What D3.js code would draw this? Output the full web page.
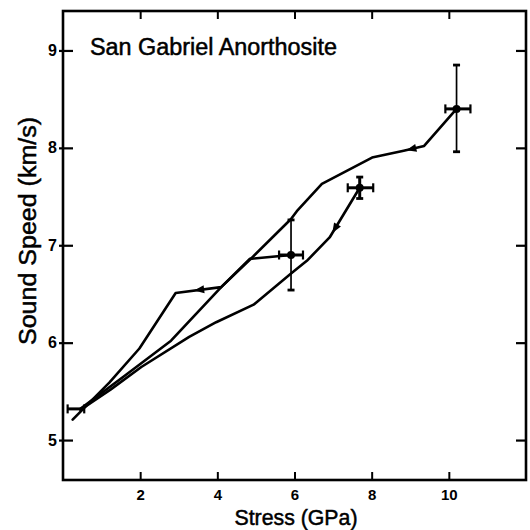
<!DOCTYPE html>
<html><head><meta charset="utf-8">
<script src="https://cdn.jsdelivr.net/npm/d3@7"></script>
<style>html,body{margin:0;padding:0;background:#fff;} svg{display:block;}</style>
</head><body>
<svg id="chart" width="530" height="530"></svg>
<script>
// ---- data ----
const xTicks = [2, 4, 6, 8, 10];
const yTicks = [5, 6, 7, 8, 9];
const xTickLabels = ["2", "4", "6", "8", "10"];
const yTickLabels = ["5", "6", "7", "8", "9"];

// release path from the 5.9 GPa state
const pathA_x = [5.91, 4.84, 4.10, 2.92, 1.98, 1.20, 0.25];
const pathA_y = [6.90, 6.86, 6.57, 6.51, 5.94, 5.59, 5.21];
// release path from the 10.2 GPa state
const pathB_x = [10.20, 9.36, 8.83, 8.01, 6.71, 6.06, 5.91, 4.84, 4.10, 2.80, 1.60, 0.45];
const pathB_y = [8.40, 8.02, 7.97, 7.90, 7.63, 7.35, 7.27, 6.85, 6.57, 6.02, 5.66, 5.32];
// release path from the 7.7 GPa state
const pathC_x = [7.69, 6.91, 6.32, 5.91, 4.94, 3.97, 3.27, 2.03, 1.24, 0.45];
const pathC_y = [7.59, 7.08, 6.84, 6.71, 6.39, 6.21, 6.06, 5.75, 5.52, 5.31];

// measured points with error bars
const pts_x   = [0.33, 5.91, 7.69, 10.20];
const pts_y   = [5.32, 6.90, 7.59, 8.40];
const pts_xlo = [0.12, 5.60, 7.38, 9.91];
const pts_xhi = [0.55, 6.22, 8.04, 10.56];
const pts_ylo = [null, 6.54, 7.48, 7.96];
const pts_yhi = [null, 7.26, 7.70, 8.85];
const pts_dot = [false, true, true, true];

// arrowheads (series, stress position)
const arrow_series = ["A", "B", "C"];
const arrow_x = [3.40, 8.90, 6.98];

const titleText = "San Gabriel Anorthosite";
const xTitle = "Stress (GPa)";
const yTitle = "Sound Speed (km/s)";

// ---- drawing ----
const svg = d3.select("#chart");
const FONT = "'Liberation Sans', Arial, sans-serif";
const x = d3.scaleLinear().domain([0, 12]).range([63, 526]);
const y = d3.scaleLinear().domain([4.59, 9.405]).range([480, 11]);

svg.append("rect").attr("width", 530).attr("height", 530).attr("fill", "#fff");

// frame
svg.append("rect")
  .attr("x", x(0)).attr("y", y(9.405))
  .attr("width", x(12) - x(0)).attr("height", y(4.59) - y(9.405))
  .attr("fill", "none").attr("stroke", "#000").attr("stroke-width", 2.6);

// bottom axis
const gB = svg.append("g").attr("transform", `translate(0,${y(4.59)})`)
  .call(d3.axisBottom(x).tickValues(xTicks).tickFormat((d, i) => xTickLabels[i])
    .tickSizeInner(-8).tickSizeOuter(0).tickPadding(9));
gB.select(".domain").remove();
gB.selectAll("line").attr("stroke-width", 2);
gB.selectAll("text").attr("font-family", FONT).attr("font-size", 15).attr("font-weight", "bold").attr("fill", "#000");

// top axis (ticks only)
const gT = svg.append("g").attr("transform", `translate(0,${y(9.405)})`)
  .call(d3.axisTop(x).tickValues(xTicks).tickFormat("").tickSizeInner(-8).tickSizeOuter(0));
gT.select(".domain").remove();
gT.selectAll("line").attr("stroke-width", 2);

// left axis
const gL = svg.append("g").attr("transform", `translate(${x(0)},0)`)
  .call(d3.axisLeft(y).tickValues(yTicks).tickFormat((d, i) => yTickLabels[i])
    .tickSizeInner(-10).tickSizeOuter(0).tickPadding(6));
gL.select(".domain").remove();
gL.selectAll("line").attr("x1", -4).attr("x2", 10).attr("stroke-width", 2.2);
gL.selectAll("text").attr("font-family", FONT).attr("font-size", 16).attr("font-weight", "bold").attr("fill", "#000");

// right axis (ticks only)
const gR = svg.append("g").attr("transform", `translate(${x(12)},0)`)
  .call(d3.axisRight(y).tickValues(yTicks).tickFormat("").tickSizeInner(-10).tickSizeOuter(0));
gR.select(".domain").remove();
gR.selectAll("line").attr("stroke-width", 2.2);

// paths
const series = {
  A: pathA_x.map((v, i) => [v, pathA_y[i]]),
  B: pathB_x.map((v, i) => [v, pathB_y[i]]),
  C: pathC_x.map((v, i) => [v, pathC_y[i]])
};
const line = d3.line().x(d => x(d[0])).y(d => y(d[1]));
Object.keys(series).forEach(k => {
  svg.append("path").attr("d", line(series[k]))
    .attr("fill", "none").attr("stroke", "#000").attr("stroke-width", 2.6)
    .attr("stroke-linejoin", "round").attr("stroke-linecap", "round");
});

// arrowheads
arrow_series.forEach((s, i) => {
  const pts = series[s];
  const ax = arrow_x[i];
  for (let j = 0; j < pts.length - 1; j++) {
    const a = pts[j], b = pts[j + 1];
    if ((ax <= a[0] && ax >= b[0]) || (ax >= a[0] && ax <= b[0])) {
      const t = (ax - a[0]) / (b[0] - a[0]);
      const ay = a[1] + t * (b[1] - a[1]);
      const ang = Math.atan2(y(b[1]) - y(a[1]), x(b[0]) - x(a[0])) * 180 / Math.PI;
      svg.append("path").attr("d", "M0,0 L-10,-4 L-10,4 Z")
        .attr("transform", `translate(${x(ax)},${y(ay)}) rotate(${ang})`)
        .attr("fill", "#000");
      break;
    }
  }
});

// error bars
pts_x.forEach((px, i) => {
  const g = svg.append("g");
  const cy = y(pts_y[i]);
  g.append("line").attr("x1", x(pts_xlo[i])).attr("x2", x(pts_xhi[i]))
    .attr("y1", cy).attr("y2", cy).attr("stroke", "#000").attr("stroke-width", 3);
  [pts_xlo[i], pts_xhi[i]].forEach(v => {
    g.append("line").attr("x1", x(v)).attr("x2", x(v)).attr("y1", cy - 4.5).attr("y2", cy + 4.5)
      .attr("stroke", "#000").attr("stroke-width", 2.2);
  });
  if (pts_ylo[i] !== null) {
    const thick = (pts_yhi[i] - pts_ylo[i]) < 0.4 ? 3 : 1.7;
    g.append("line").attr("x1", x(px)).attr("x2", x(px))
      .attr("y1", y(pts_ylo[i])).attr("y2", y(pts_yhi[i])).attr("stroke", "#000").attr("stroke-width", thick);
    [pts_ylo[i], pts_yhi[i]].forEach(v => {
      g.append("line").attr("x1", x(px) - 3.5).attr("x2", x(px) + 3.5).attr("y1", y(v)).attr("y2", y(v))
        .attr("stroke", "#000").attr("stroke-width", 2.8);
    });
  }
  if (pts_dot[i]) {
    g.append("circle").attr("cx", x(px)).attr("cy", cy).attr("r", 4).attr("fill", "#000");
  }
});

// texts
svg.append("text").attr("x", 90).attr("y", 55).text(titleText)
  .attr("font-family", FONT).attr("font-size", 23).attr("fill", "#000")
  .attr("stroke", "#000").attr("stroke-width", 0.5)
  .attr("textLength", 247).attr("lengthAdjust", "spacingAndGlyphs");

svg.append("text").attr("x", 296).attr("y", 525).attr("text-anchor", "middle").text(xTitle)
  .attr("font-family", FONT).attr("font-size", 22).attr("fill", "#000")
  .attr("stroke", "#000").attr("stroke-width", 0.5)
  .attr("textLength", 123).attr("lengthAdjust", "spacingAndGlyphs");

svg.append("text").attr("transform", "translate(36,231) rotate(-90)").attr("text-anchor", "middle").text(yTitle)
  .attr("font-family", FONT).attr("font-size", 23).attr("fill", "#000")
  .attr("stroke", "#000").attr("stroke-width", 0.5)
  .attr("textLength", 228).attr("lengthAdjust", "spacingAndGlyphs");
</script>
</body></html>
